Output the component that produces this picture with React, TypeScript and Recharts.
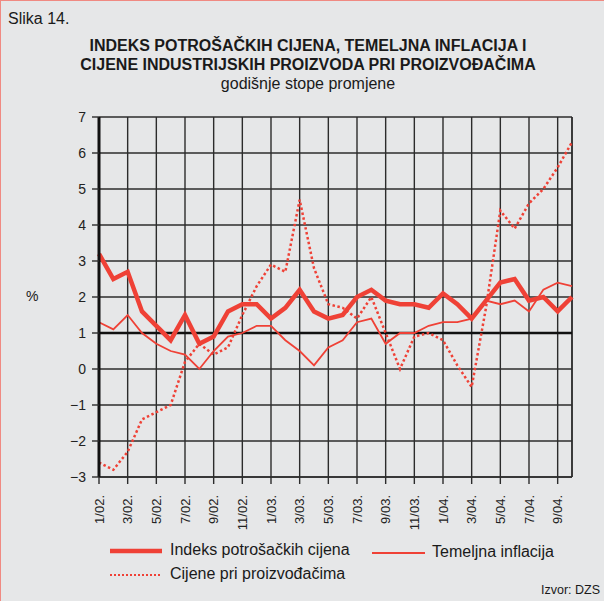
import { LineChart, Line, XAxis, YAxis, CartesianGrid, ReferenceLine } from "recharts";

// month labels, 1/02. .. 10/04.
const MONTHS = [
  "1/02.", "2/02.", "3/02.", "4/02.", "5/02.", "6/02.", "7/02.", "8/02.", "9/02.", "10/02.", "11/02.", "12/02.",
  "1/03.", "2/03.", "3/03.", "4/03.", "5/03.", "6/03.", "7/03.", "8/03.", "9/03.", "10/03.", "11/03.", "12/03.",
  "1/04.", "2/04.", "3/04.", "4/04.", "5/04.", "6/04.", "7/04.", "8/04.", "9/04.", "10/04.",
];

// Indeks potrošačkih cijena
const CPI = [3.2, 2.5, 2.7, 1.6, 1.2, 0.8, 1.5, 0.7, 0.9, 1.6, 1.8, 1.8, 1.4, 1.7, 2.2, 1.6, 1.4, 1.5, 2.0, 2.2, 1.9, 1.8, 1.8, 1.7, 2.1, 1.8, 1.4, 1.9, 2.4, 2.5, 1.9, 2.0, 1.6, 2.0];
// Temeljna inflacija
const CORE = [1.3, 1.1, 1.5, 1.0, 0.7, 0.5, 0.4, 0.0, 0.5, 0.9, 1.0, 1.2, 1.2, 0.8, 0.5, 0.1, 0.6, 0.8, 1.3, 1.4, 0.7, 1.0, 1.0, 1.2, 1.3, 1.3, 1.4, 1.9, 1.8, 1.9, 1.6, 2.2, 2.4, 2.3];
// Cijene pri proizvođačima
const PPI = [-2.6, -2.8, -2.3, -1.4, -1.2, -1.0, 0.2, 0.7, 0.4, 0.6, 1.5, 2.3, 2.9, 2.7, 4.7, 2.8, 1.8, 1.7, 1.4, 2.0, 1.0, 0.0, 0.9, 1.0, 0.8, 0.1, -0.5, 1.7, 4.4, 3.9, 4.6, 5.0, 5.6, 6.3];

const Y_TICKS = [-3, -2, -1, 0, 1, 2, 3, 4, 5, 6, 7];

const RED = "#ef4136";
const GRID = "#2c2c2c";
const FONT = "'Liberation Sans', Arial, sans-serif";

const data = MONTHS.map((m, i) => ({ i, m, cpi: CPI[i], core: CORE[i], ppi: PPI[i] }));
const xTicks = data.filter((d) => d.i % 2 === 0).map((d) => d.i);

const fmtY = (v: number) => (v < 0 ? "\u2212" + Math.abs(v) : String(v));

const XTick = (props: any) => {
  const { x, y, payload } = props;
  return (
    <text
      transform={`translate(${x + 4.5},${y + 9}) rotate(-90)`}
      textAnchor="end"
      fontSize={13}
      fontFamily={FONT}
      fill="#222"
    >
      {MONTHS[payload.value]}
    </text>
  );
};

const App = () => {
  return (
    <div style={{ position: "relative", width: 604, height: 601, background: "#e6e7e8", fontFamily: FONT, color: "#1a1a1a", overflow: "hidden" }}>
      <style>{`body{margin:0}`}</style>
      <div style={{ position: "absolute", left: 0, top: 0, width: 603, height: 600, borderLeft: "1px solid #f08a82", borderTop: "1px solid #f08a82" }} />
      <div style={{ position: "absolute", left: 8, top: 10, fontSize: 16 }}>Slika 14.</div>
      <div style={{ position: "absolute", left: 0, width: 616, top: 36, textAlign: "center", fontSize: 16, fontWeight: "bold", lineHeight: "19px" }}>
        INDEKS POTROŠAČKIH CIJENA, TEMELJNA INFLACIJA I<br />
        CIJENE INDUSTRIJSKIH PROIZVODA PRI PROIZVOĐAČIMA
      </div>
      <div style={{ position: "absolute", left: 0, width: 616, top: 75, textAlign: "center", fontSize: 16 }}>godišnje stope promjene</div>
      <div style={{ position: "absolute", left: 26, top: 288, fontSize: 14 }}>%</div>

      <div style={{ position: "absolute", left: 0, top: 0 }}>
        <LineChart width={604} height={601} data={data} margin={{ top: 117, right: 32, bottom: 64, left: 0 }}>
          <CartesianGrid stroke={GRID} strokeWidth={1.4} />
          <XAxis
            type="number"
            dataKey="i"
            domain={[0, 33]}
            ticks={xTicks}
            interval={0}
            height={60}
            tick={<XTick />}
            tickSize={7}
            tickLine={{ stroke: GRID, strokeWidth: 1.4 }}
            axisLine={{ stroke: GRID, strokeWidth: 1.4 }}
          />
          <YAxis
            domain={[-3, 7]}
            ticks={Y_TICKS}
            interval={0}
            width={99}
            tickFormatter={fmtY}
            tickSize={7}
            tickMargin={6}
            tick={{ fontSize: 14, fill: "#222", fontFamily: FONT }}
            tickLine={{ stroke: GRID, strokeWidth: 1.4 }}
            axisLine={{ stroke: "#111", strokeWidth: 3 }}
          />
          <ReferenceLine x={33} stroke={GRID} strokeWidth={1.4} />
          <ReferenceLine y={1} stroke="#111" strokeWidth={2.5} />
          <Line dataKey="cpi" stroke={RED} strokeWidth={4.5} dot={false} isAnimationActive={false} />
          <Line dataKey="core" stroke={RED} strokeWidth={1.8} dot={false} isAnimationActive={false} />
          <Line dataKey="ppi" stroke={RED} strokeWidth={2.5} strokeDasharray="2.5 2.5" dot={false} isAnimationActive={false} />
        </LineChart>
      </div>

      {/* legend */}
      <svg style={{ position: "absolute", left: 0, top: 0 }} width={604} height={601}>
        <line x1={110} x2={162} y1={551} y2={551} stroke={RED} strokeWidth={4.5} />
        <line x1={372} x2={425} y1={553} y2={553} stroke={RED} strokeWidth={1.8} />
        <line x1={110} x2={162} y1={575} y2={575} stroke={RED} strokeWidth={2} strokeDasharray="2 2" />
      </svg>
      <div style={{ position: "absolute", left: 170, top: 541, fontSize: 16 }}>Indeks potrošačkih cijena</div>
      <div style={{ position: "absolute", left: 432, top: 543, fontSize: 16 }}>Temeljna inflacija</div>
      <div style={{ position: "absolute", left: 170, top: 565, fontSize: 16 }}>Cijene pri proizvođačima</div>
      <div style={{ position: "absolute", left: 541, top: 583, fontSize: 12.5, whiteSpace: "nowrap" }}>Izvor: DZS</div>
    </div>
  );
};

export default App;
